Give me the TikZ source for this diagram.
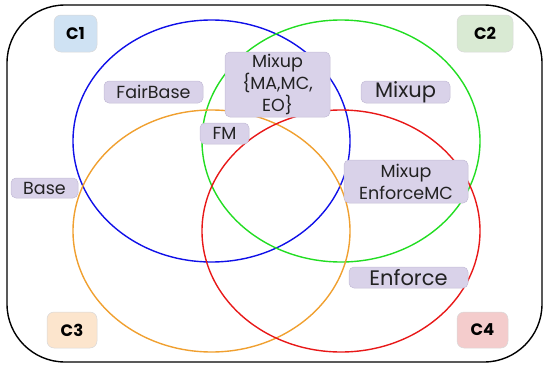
\documentclass[tikz,border=0pt]{standalone}
\usepackage{fontspec}
\setmainfont{Poppins}
\definecolor{lav}{HTML}{D9D2E9}
\definecolor{lavb}{HTML}{C4BCD6}
\definecolor{cblue}{HTML}{CFE2F3}
\definecolor{cgreen}{HTML}{D9EAD3}
\definecolor{corange}{HTML}{FCE5CD}
\definecolor{cred}{HTML}{F4CCCC}
\definecolor{eblue}{HTML}{1010E8}
\definecolor{egreen}{HTML}{22DD22}
\definecolor{eorange}{HTML}{F0A030}
\definecolor{ered}{HTML}{E81818}
\definecolor{txt}{HTML}{222222}
\begin{document}
\begin{tikzpicture}[x=1pt,y=-1pt,
  set/.style={line width=1.4pt},
  lbl/.style={fill=lav,draw=lavb,line width=0.5pt,rounded corners=5pt,text=txt,inner sep=0pt,align=center,font=\fontsize{17.5}{22}\selectfont},
  biglbl/.style={lbl,font=\fontsize{21}{24}\selectfont},
  cls/.style={draw=black!15,line width=0.5pt,rounded corners=7pt,text=black,inner sep=0pt,font=\fontsize{16.5}{18}\selectfont\bfseries}]
\useasboundingbox (0,0) rectangle (544,367);
\draw[line width=1.4pt,rounded corners=58pt] (7,5) rectangle (542,362);
\draw[set,eblue] (211.5,141) ellipse [x radius=138.5pt, y radius=121pt];
\draw[set,egreen] (341,141) ellipse [x radius=139pt, y radius=121pt];
\draw[set,eorange] (211.5,231) ellipse [x radius=138.5pt, y radius=121pt];
\draw[set,ered] (341,231) ellipse [x radius=139pt, y radius=121pt];
\node[cls,fill=cblue,minimum width=43pt,minimum height=37pt] (c1) at (75.5,33.5) {C1};
\node[cls,fill=cgreen,minimum width=56pt,minimum height=37pt] (c2) at (485,33.5) {C2};
\node[cls,fill=corange,minimum width=50pt,minimum height=36pt] (c3) at (72,330) {C3};
\node[cls,fill=cred,minimum width=51pt,minimum height=36pt] (c4) at (482.5,330) {C4};
\node[lbl,minimum width=99pt,minimum height=22pt] (fairbase) at (153.5,92) {FairBase};
\node[biglbl,minimum width=89pt,minimum height=22pt] (mixup) at (405.5,92) {Mixup};
\node[lbl,minimum width=105pt,minimum height=65pt] (mixupall) at (277.5,84.5) {Mixup\\\{MA,MC,\\EO\}};
\node[lbl,minimum width=49pt,minimum height=21pt] (fm) at (224.5,133.5) {FM};
\node[lbl,minimum width=67pt,minimum height=20pt] (base) at (44.5,188) {Base};
\node[lbl,minimum width=124pt,minimum height=43pt] (mixupemc) at (406,181.5) {Mixup\\EnforceMC};
\node[biglbl,minimum width=119pt,minimum height=21pt] (enforce) at (408.5,277.5) {Enforce};
\end{tikzpicture}
\end{document}
